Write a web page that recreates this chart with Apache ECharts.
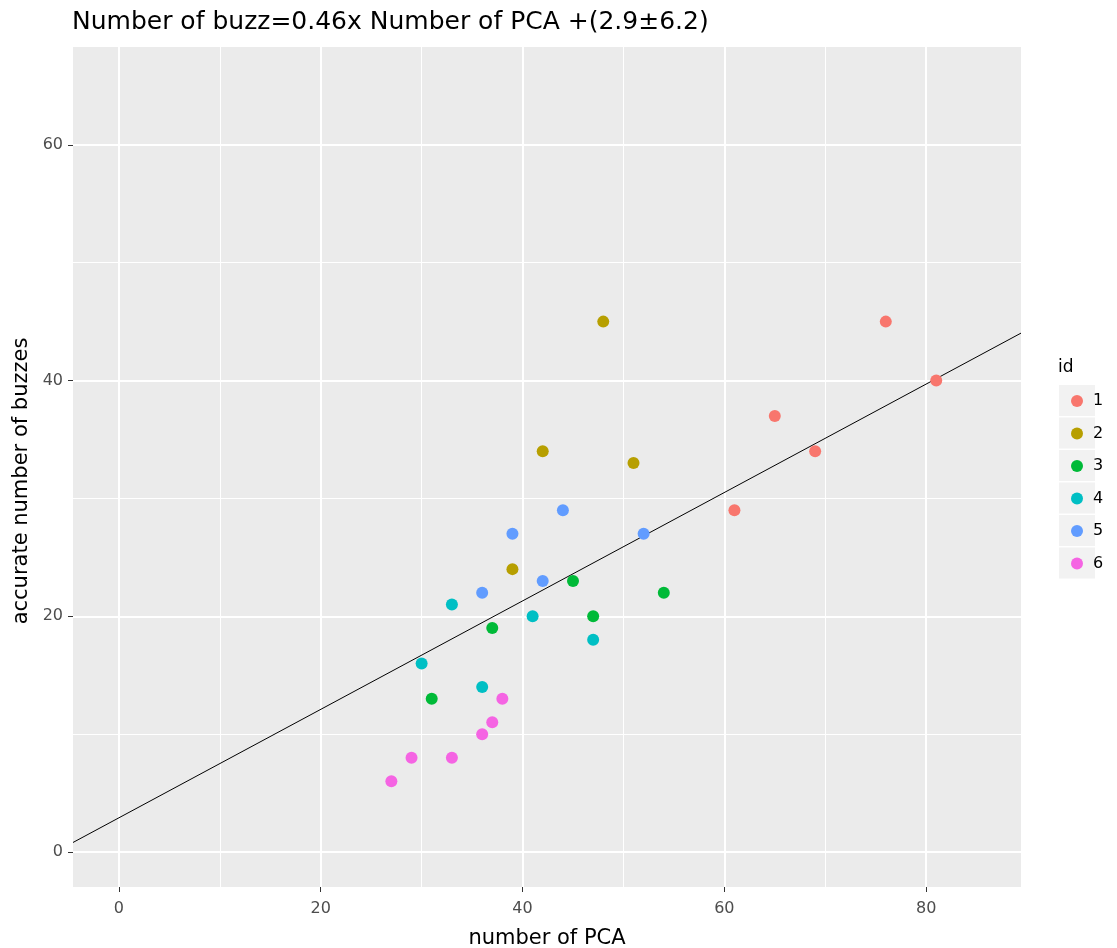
<!DOCTYPE html>
<html><head><meta charset="utf-8">
<script src="https://cdn.jsdelivr.net/npm/echarts@6/dist/echarts.min.js"></script>
<style>html,body{margin:0;padding:0;background:#fff}#c{width:1117px;height:948px}</style>
</head><body><div id="c"></div>
<script>
// ---- data ----
const ids = ['1', '2', '3', '4', '5', '6'];
const colors = ['#F8766D', '#B79F00', '#00BA38', '#00BFC4', '#619CFF', '#F564E3'];
const pca1 = [76, 81, 65, 69, 61];
const buzz1 = [45, 40, 37, 34, 29];
const pca2 = [48, 42, 51, 39];
const buzz2 = [45, 34, 33, 24];
const pca3 = [45, 54, 47, 37, 31];
const buzz3 = [23, 22, 20, 19, 13];
const pca4 = [33, 41, 47, 30, 36];
const buzz4 = [21, 20, 18, 16, 14];
const pca5 = [44, 39, 52, 36, 42];
const buzz5 = [29, 27, 27, 22, 23];
const pca6 = [38, 37, 36, 29, 33, 27];
const buzz6 = [13, 11, 10, 8, 8, 6];
const slope = 0.46;
const intercept = 2.9;
const xTicks = [0, 20, 40, 60, 80];
const yTicks = [0, 20, 40, 60];
const xMinor = [10, 30, 50, 70];
const yMinor = [10, 30, 50];
const xRange = [-4.55, 89.4];
const yRange = [-2.97, 68.3];
const titleText = 'Number of buzz=0.46x Number of PCA +(2.9±6.2)';
const xName = 'number of PCA';
const yName = 'accurate number of buzzes';
const legendTitle = 'id';

const groupsX = [pca1, pca2, pca3, pca4, pca5, pca6];
const groupsY = [buzz1, buzz2, buzz3, buzz4, buzz5, buzz6];
const FONT = 'DejaVu Sans, Liberation Sans, sans-serif';

const scatterSeries = ids.map((id, i) => ({
  name: id,
  type: 'scatter',
  data: groupsX[i].map((x, j) => [x, groupsY[i][j]]),
  symbol: 'circle',
  symbolSize: 12,
  itemStyle: { color: colors[i], opacity: 1 },
  z: 6
}));

const chart = echarts.init(document.getElementById('c'), null, { renderer: 'canvas' });
chart.setOption({
  animation: false,
  backgroundColor: '#ffffff',
  title: [
    { text: titleText, left: 72, top: 10, padding: 0,
      textStyle: { fontFamily: FONT, fontSize: 25, fontWeight: 'normal', color: '#000' } },
    { text: legendTitle, left: 1058, top: 359, padding: 0,
      textStyle: { fontFamily: FONT, fontSize: 17, fontWeight: 'normal', color: '#000' } }
  ],
  grid: { left: 73, right: 96, top: 47, bottom: 61, show: true, backgroundColor: '#EBEBEB', borderWidth: 0,
    containLabel: false, outerBoundsMode: 'none' },
  xAxis: {
    type: 'value', min: xRange[0], max: xRange[1],
    name: xName, nameLocation: 'middle', nameGap: 41,
    nameTextStyle: { fontFamily: FONT, fontSize: 21, color: '#000' },
    axisLine: { show: false, onZero: false },
    axisTick: { show: true, length: 5, customValues: xTicks, lineStyle: { color: '#333', width: 1 } },
    axisLabel: { customValues: xTicks, margin: 14, fontFamily: FONT, fontSize: 16, color: '#4D4D4D' },
    splitLine: { show: true, lineStyle: { color: '#fff', width: 2 } }
  },
  yAxis: {
    type: 'value', min: yRange[0], max: yRange[1],
    name: yName, nameLocation: 'middle', nameGap: 40,
    nameTextStyle: { fontFamily: FONT, fontSize: 21, color: '#000', padding: [0, 28, 0, 0] },
    axisLine: { show: false, onZero: false },
    axisTick: { show: true, length: 5, customValues: yTicks, lineStyle: { color: '#333', width: 1 } },
    axisLabel: { customValues: yTicks, margin: 10, fontFamily: FONT, fontSize: 16, color: '#4D4D4D' },
    splitLine: { show: true, lineStyle: { color: '#fff', width: 2 } }
  },
  legend: [
    { orient: 'vertical', left: 1059, top: 385, padding: 0, selectedMode: false,
      data: ids, icon: 'rect', itemWidth: 36, itemHeight: 31, itemGap: 1.5,
      itemStyle: { color: '#F2F2F2', borderWidth: 0 },
      textStyle: { color: 'rgba(0,0,0,0)', fontSize: 1 } },
    { orient: 'vertical', left: 1071, top: 391, padding: 0, selectedMode: false,
      data: ids, icon: 'circle', itemWidth: 22, itemHeight: 12, itemGap: 12.5,
      textStyle: { fontFamily: FONT, fontSize: 16, color: '#000', lineHeight: 20 } }
  ],
  series: [
    { name: 'minor', type: 'line', data: [], silent: true, z: 1, zlevel: 0,
      markLine: { silent: true, symbol: 'none', animation: false, label: { show: false }, z: 1,
        lineStyle: { color: '#fff', width: 1, type: 'solid' },
        emphasis: { disabled: true },
        data: xMinor.map(v => ({ xAxis: v })).concat(yMinor.map(v => ({ yAxis: v }))) } },
    { name: 'fit', type: 'line', silent: true, z: 4, symbol: 'none', showSymbol: false,
      data: [[xRange[0], intercept + slope * xRange[0]], [xRange[1], intercept + slope * xRange[1]]],
      lineStyle: { color: '#000', width: 1 } },
    ...scatterSeries
  ]
});
</script></body></html>
